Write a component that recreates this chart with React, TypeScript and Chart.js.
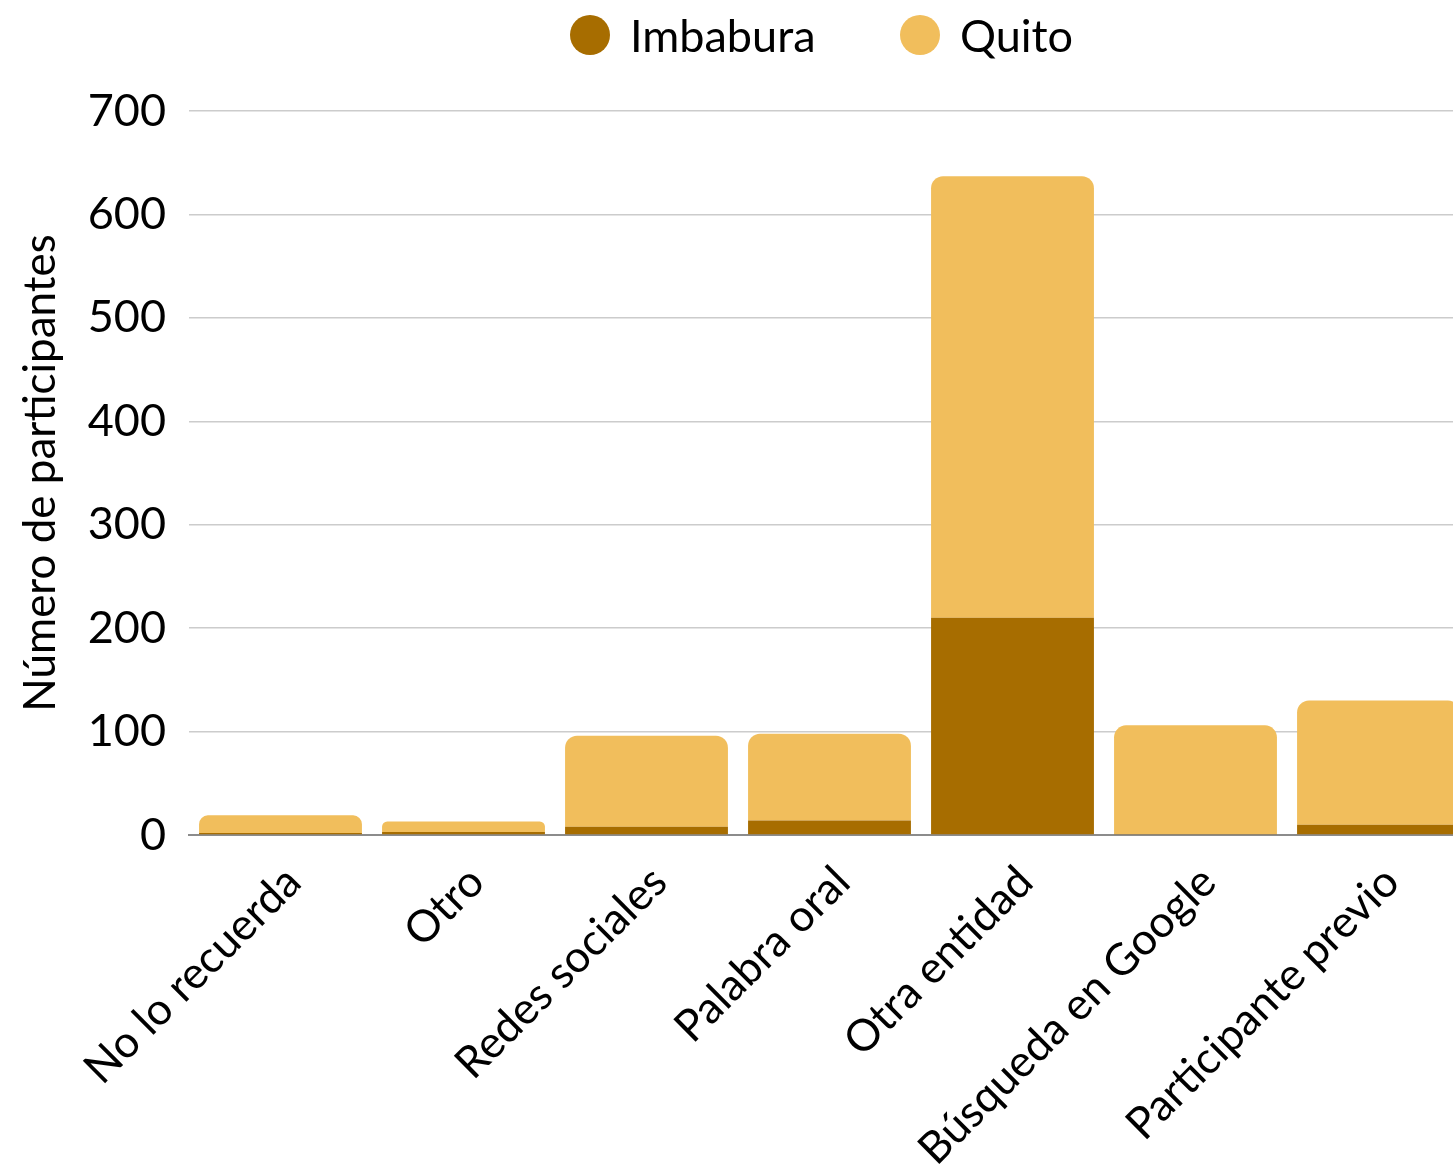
import React, { useEffect, useRef } from 'react';
import { Chart, registerables } from 'chart.js';

Chart.register(...registerables);

const categories = [
  'No lo recuerda',
  'Otro',
  'Redes sociales',
  'Palabra oral',
  'Otra entidad',
  'Búsqueda en Google',
  'Participante previo',
];
const imbabura = [2, 3, 8, 14, 210, 1, 10];
const quito = [17, 10, 88, 84, 427, 105, 120];
const seriesNames = ['Imbabura', 'Quito'];
const seriesColors = ['#A76D00', '#F1BE5C'];
const yMin = 0;
const yMax = 700;
const yStep = 100;
const yTitle = 'Número de participantes';

const FONT = 'Lato, "Open Sans", sans-serif';

export default function App() {
  const canvasRef = useRef<HTMLCanvasElement | null>(null);

  useEffect(() => {
    const canvas = canvasRef.current;
    if (!canvas) return;
    const chart = new Chart(canvas, {
      type: 'bar',
      data: {
        labels: categories,
        datasets: [
          {
            label: seriesNames[0],
            data: imbabura,
            backgroundColor: seriesColors[0],
            borderWidth: 0,
            borderRadius: 0,
            barPercentage: 1,
            categoryPercentage: 0.89,
          },
          {
            label: seriesNames[1],
            data: quito,
            backgroundColor: seriesColors[1],
            borderWidth: 0,
            borderSkipped: false,
            borderRadius: { topLeft: 12, topRight: 12, bottomLeft: 0, bottomRight: 0 },
            barPercentage: 1,
            categoryPercentage: 0.89,
          },
        ],
      },
      options: {
        responsive: true,
        maintainAspectRatio: false,
        animation: false,
        layout: { padding: { top: 111, right: 10, left: 0, bottom: 0 } },
        plugins: {
          legend: { display: false },
          tooltip: { enabled: false },
        },
        scales: {
          x: {
            stacked: true,
            grid: { display: false, drawTicks: false },
            border: { display: true, color: '#8c8c8c', width: 2 },
            ticks: {
              font: { family: FONT, size: 44 },
              color: '#000',
              minRotation: 45,
              maxRotation: 45,
              autoSkip: false,
              padding: 21,
              labelOffset: 13,
            },
            afterFit: (s: any) => {
              s.height = 335;
              s.paddingLeft = 0;
              s.paddingRight = 0;
            },
          },
          y: {
            stacked: true,
            min: yMin,
            max: yMax,
            ticks: {
              stepSize: yStep,
              font: { family: FONT, size: 45 },
              color: '#000',
              padding: 23,
            },
            grid: { color: '#cccccc', lineWidth: 1.5, drawTicks: false },
            border: { display: false },
            title: {
              display: true,
              text: yTitle,
              font: { family: FONT, size: 44 },
              color: '#000',
              padding: { top: 14, bottom: 0 },
            },
            afterFit: (s: any) => {
              s.width = 189;
            },
          },
        },
      },
    });
    return () => chart.destroy();
  }, []);

  const legendLefts = [570, 900];

  return (
    <div
      style={{
        position: 'absolute',
        left: 0,
        top: 0,
        width: 1453,
        height: 1170,
        overflow: 'hidden',
        background: '#fff',
      }}
    >
      <div style={{ position: 'absolute', left: 0, top: 0, width: 1480, height: 1170 }}>
        <canvas ref={canvasRef} />
      </div>
      {seriesNames.map((name, i) => (
        <div
          key={name}
          style={{
            position: 'absolute',
            left: legendLefts[i],
            top: 15,
            height: 40,
            display: 'flex',
            alignItems: 'center',
            fontFamily: FONT,
            fontSize: 45,
            color: '#000',
            whiteSpace: 'nowrap',
          }}
        >
          <span
            style={{
              display: 'inline-block',
              width: 40,
              height: 40,
              borderRadius: '50%',
              background: seriesColors[i],
              marginRight: 20,
            }}
          />
          <span style={{ lineHeight: '40px' }}>{name}</span>
        </div>
      ))}
    </div>
  );
}
